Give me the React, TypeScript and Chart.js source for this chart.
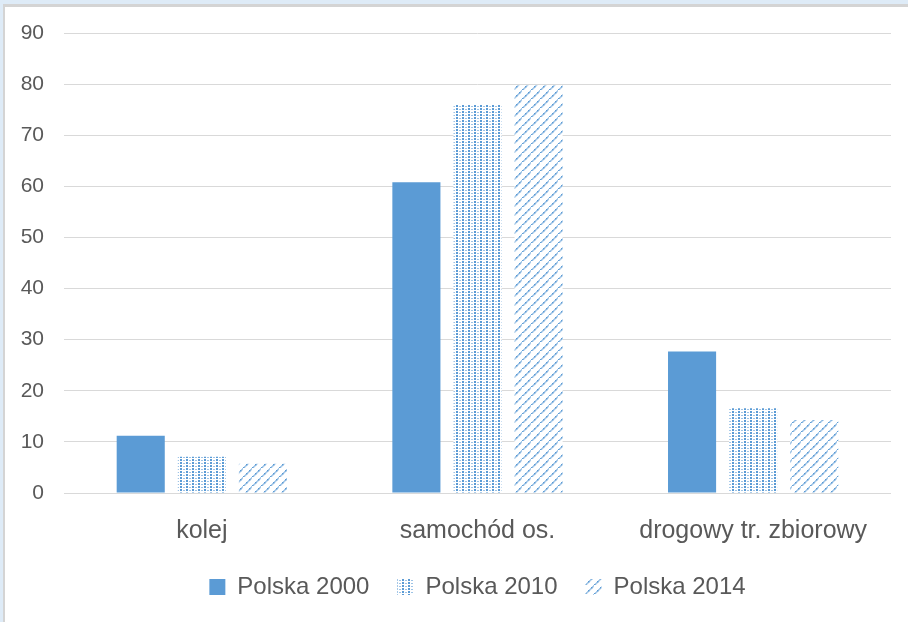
import React, { useEffect, useRef } from "react";
import { Chart, registerables } from "chart.js";

Chart.register(...registerables);

const categories = ["kolej", "samochód os.", "drogowy tr. zbiorowy"];
const seriesNames = ["Polska 2000", "Polska 2010", "Polska 2014"];
const polska2000 = [11.2, 60.8, 27.7];
const polska2010 = [7.1, 75.9, 16.6];
const polska2014 = [5.7, 79.8, 14.3];
const yMin = 0;
const yMax = 90;
const yStep = 10;

const BLUE = "#5B9BD5";
const TEXT = "#595959";
const FONT = "'Liberation Sans', Arial, sans-serif";

function makeDots(): CanvasPattern | string {
  const c = document.createElement("canvas");
  c.width = 6;
  c.height = 3;
  const g = c.getContext("2d");
  if (!g) return BLUE;
  g.fillStyle = "#ffffff";
  g.fillRect(0, 0, 6, 3);
  g.fillStyle = BLUE;
  g.fillRect(0, 0, 2, 2);
  g.fillStyle = "rgba(91,155,213,0.6)";
  g.fillRect(3, 1, 2, 1);
  const p = g.createPattern(c, "repeat");
  return p || BLUE;
}

function makeDiag(): CanvasPattern | string {
  const s = 9;
  const c = document.createElement("canvas");
  c.width = s;
  c.height = s;
  const g = c.getContext("2d");
  if (!g) return BLUE;
  g.fillStyle = "#ffffff";
  g.fillRect(0, 0, s, s);
  for (let i = 0; i < s; i++) {
    g.fillStyle = i % 3 === 0 ? "rgba(91,155,213,1)" : "rgba(91,155,213,0.55)";
    g.fillRect(i, s - 1 - i, 1.6, 1.6);
  }
  const p = g.createPattern(c, "repeat");
  return p || BLUE;
}

export default function App() {
  const ref = useRef<HTMLCanvasElement | null>(null);

  useEffect(() => {
    if (!ref.current) return;
    const dots = makeDots();
    const diag = makeDiag();
    const chart = new Chart(ref.current, {
      type: "bar",
      data: {
        labels: categories,
        datasets: [
          { label: seriesNames[0], data: polska2000, backgroundColor: BLUE, borderWidth: 0 },
          { label: seriesNames[1], data: polska2010, backgroundColor: dots as any, borderWidth: 0 },
          { label: seriesNames[2], data: polska2014, backgroundColor: diag as any, borderWidth: 0 },
        ],
      },
      options: {
        responsive: false,
        animation: false,
        datasets: {
          bar: { categoryPercentage: 0.665, barPercentage: 0.787 },
        },
        layout: { padding: { left: 0, top: 33, right: 17, bottom: 13 } },
        scales: {
          x: {
            grid: { display: false, drawTicks: false },
            border: { display: false },
            ticks: { color: TEXT, font: { family: FONT, size: 25 }, padding: 23 },
            afterFit: (scale: any) => {
              scale.height = 54;
            },
          },
          y: {
            min: yMin,
            max: yMax,
            grid: { color: "#D9D9D9", lineWidth: 1, drawTicks: false },
            border: { display: false },
            ticks: { stepSize: yStep, color: TEXT, font: { family: FONT, size: 21 }, padding: 20 },
            afterFit: (scale: any) => {
              scale.width = 64;
            },
          },
        },
        plugins: {
          legend: {
            position: "bottom",
            fullSize: false,
            labels: {
              boxWidth: 16,
              boxHeight: 16,
              padding: 28,
              color: TEXT,
              font: { family: FONT, size: 24 },
            },
          },
          tooltip: { enabled: false },
        },
      },
    });
    return () => chart.destroy();
  }, []);

  return (
    <div style={{ position: "fixed", left: 0, top: 0, width: 908, height: 622, background: "#DEEBF7", overflow: "hidden" }}>
      <div
        style={{
          position: "absolute",
          left: 3,
          top: 4,
          right: 0,
          bottom: 0,
          background: "#ffffff",
          borderTop: "3px solid #D4D4D4",
          borderLeft: "2px solid #D4D4D4",
        }}
      />
      <canvas ref={ref} width={908} height={622} style={{ position: "absolute", left: 0, top: 0, width: 908, height: 622 }} />
    </div>
  );
}
